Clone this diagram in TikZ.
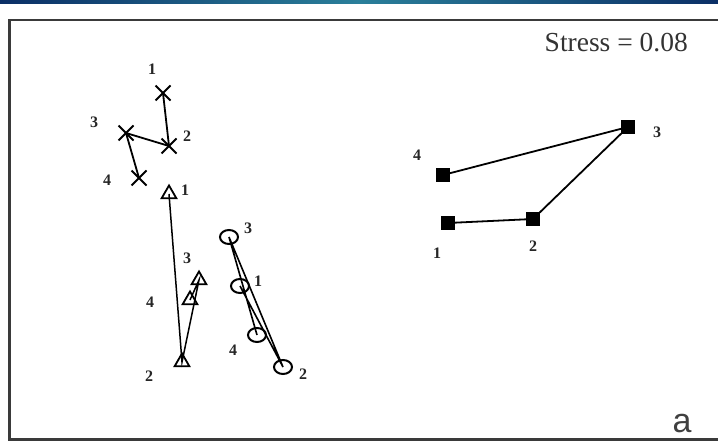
\documentclass[tikz,border=0pt]{standalone}
\usepackage{fontspec}
\setmainfont{Liberation Serif}
\newfontfamily\labsans{Liberation Sans}
\usetikzlibrary{shapes.misc,shapes.geometric}
\definecolor{framegray}{HTML}{3A3A3A}
\definecolor{bandnavy}{HTML}{0B2F66}
\definecolor{bandteal}{HTML}{2A7F9A}
\tikzset{
  xmark/.style={cross out,draw=black,line width=2pt,minimum size=13pt,inner sep=0pt},
  trimark/.style={regular polygon,regular polygon sides=3,draw=black,line width=1.8pt,minimum size=17pt,inner sep=0pt},
  circmark/.style={ellipse,draw=black,line width=2pt,minimum width=18pt,minimum height=14pt,inner sep=0pt},
  sqmark/.style={rectangle,fill=black,minimum size=14pt,inner sep=0pt},
  link/.style={line width=1.8pt,black},
  numlab/.style={font=\fontsize{16}{16}\selectfont\bfseries,inner sep=0pt,text=black!85},
}
\begin{document}
\begin{tikzpicture}[x=1pt,y=-1pt]
\useasboundingbox (0,0) rectangle (718,441);
\fill[white] (0,0) rectangle (718,441);
% top band
\shade[left color=bandnavy,right color=bandnavy,middle color=bandteal] (0,0) rectangle (718,3.5);
% frame
\draw[framegray,line width=2.2pt] (725,20) -- (9.5,20) -- (9.5,439.5) -- (725,439.5);
% texts
\node[anchor=base east,inner sep=0pt,font=\fontsize{27.5}{27.5}\selectfont,text=black!80] (stress) at (688,52) {Stress = 0.08};
\node[anchor=base,inner sep=0pt,font=\labsans\fontsize{34}{34}\selectfont,text=black!75] (panel) at (682,432) {a};
% crosses
\node[xmark] (x1) at (163,93) {};
\node[xmark] (x2) at (169,146) {};
\node[xmark] (x3) at (126,133) {};
\node[xmark] (x4) at (139,178) {};
\draw[link] (x1.center) -- (x2.center) -- (x3.center) -- (x4.center);
\node[numlab] (lx1) at (152,69) {1};
\node[numlab] (lx2) at (187,136) {2};
\node[numlab] (lx3) at (94,122) {3};
\node[numlab] (lx4) at (107,180) {4};
% triangles
\node[trimark] (t1) at (169,194) {};
\node[trimark] (t2) at (182,362) {};
\node[trimark] (t3) at (199,280) {};
\node[trimark] (t4) at (190,300) {};
\draw[link,line width=1.5pt] (t1.center) -- (t2.center) -- (t3.center) -- (t4.center);
\node[numlab] (lt1) at (185,190) {1};
\node[numlab] (lt2) at (149,376) {2};
\node[numlab] (lt3) at (187,258) {3};
\node[numlab] (lt4) at (150,302) {4};
% circles
\node[circmark] (c1) at (240,286) {};
\node[circmark] (c2) at (283,367) {};
\node[circmark] (c3) at (229,237) {};
\node[circmark] (c4) at (257,335) {};
\draw[link,line width=1.6pt] (c1.center) -- (c2.center) -- (c3.center) -- (c4.center);
\node[numlab] (lc1) at (258,281) {1};
\node[numlab] (lc2) at (303,374) {2};
\node[numlab] (lc3) at (248,228) {3};
\node[numlab] (lc4) at (233,350) {4};
% squares
\node[sqmark] (s1) at (448,223) {};
\node[sqmark] (s2) at (533,219) {};
\node[sqmark] (s3) at (628,127) {};
\node[sqmark] (s4) at (443,175) {};
\draw[link] (s1.center) -- (s2.center) -- (s3.center) -- (s4.center);
\node[numlab] (ls1) at (437,253) {1};
\node[numlab] (ls2) at (533,246) {2};
\node[numlab] (ls3) at (657,132) {3};
\node[numlab] (ls4) at (417,155) {4};
\end{tikzpicture}
\end{document}
